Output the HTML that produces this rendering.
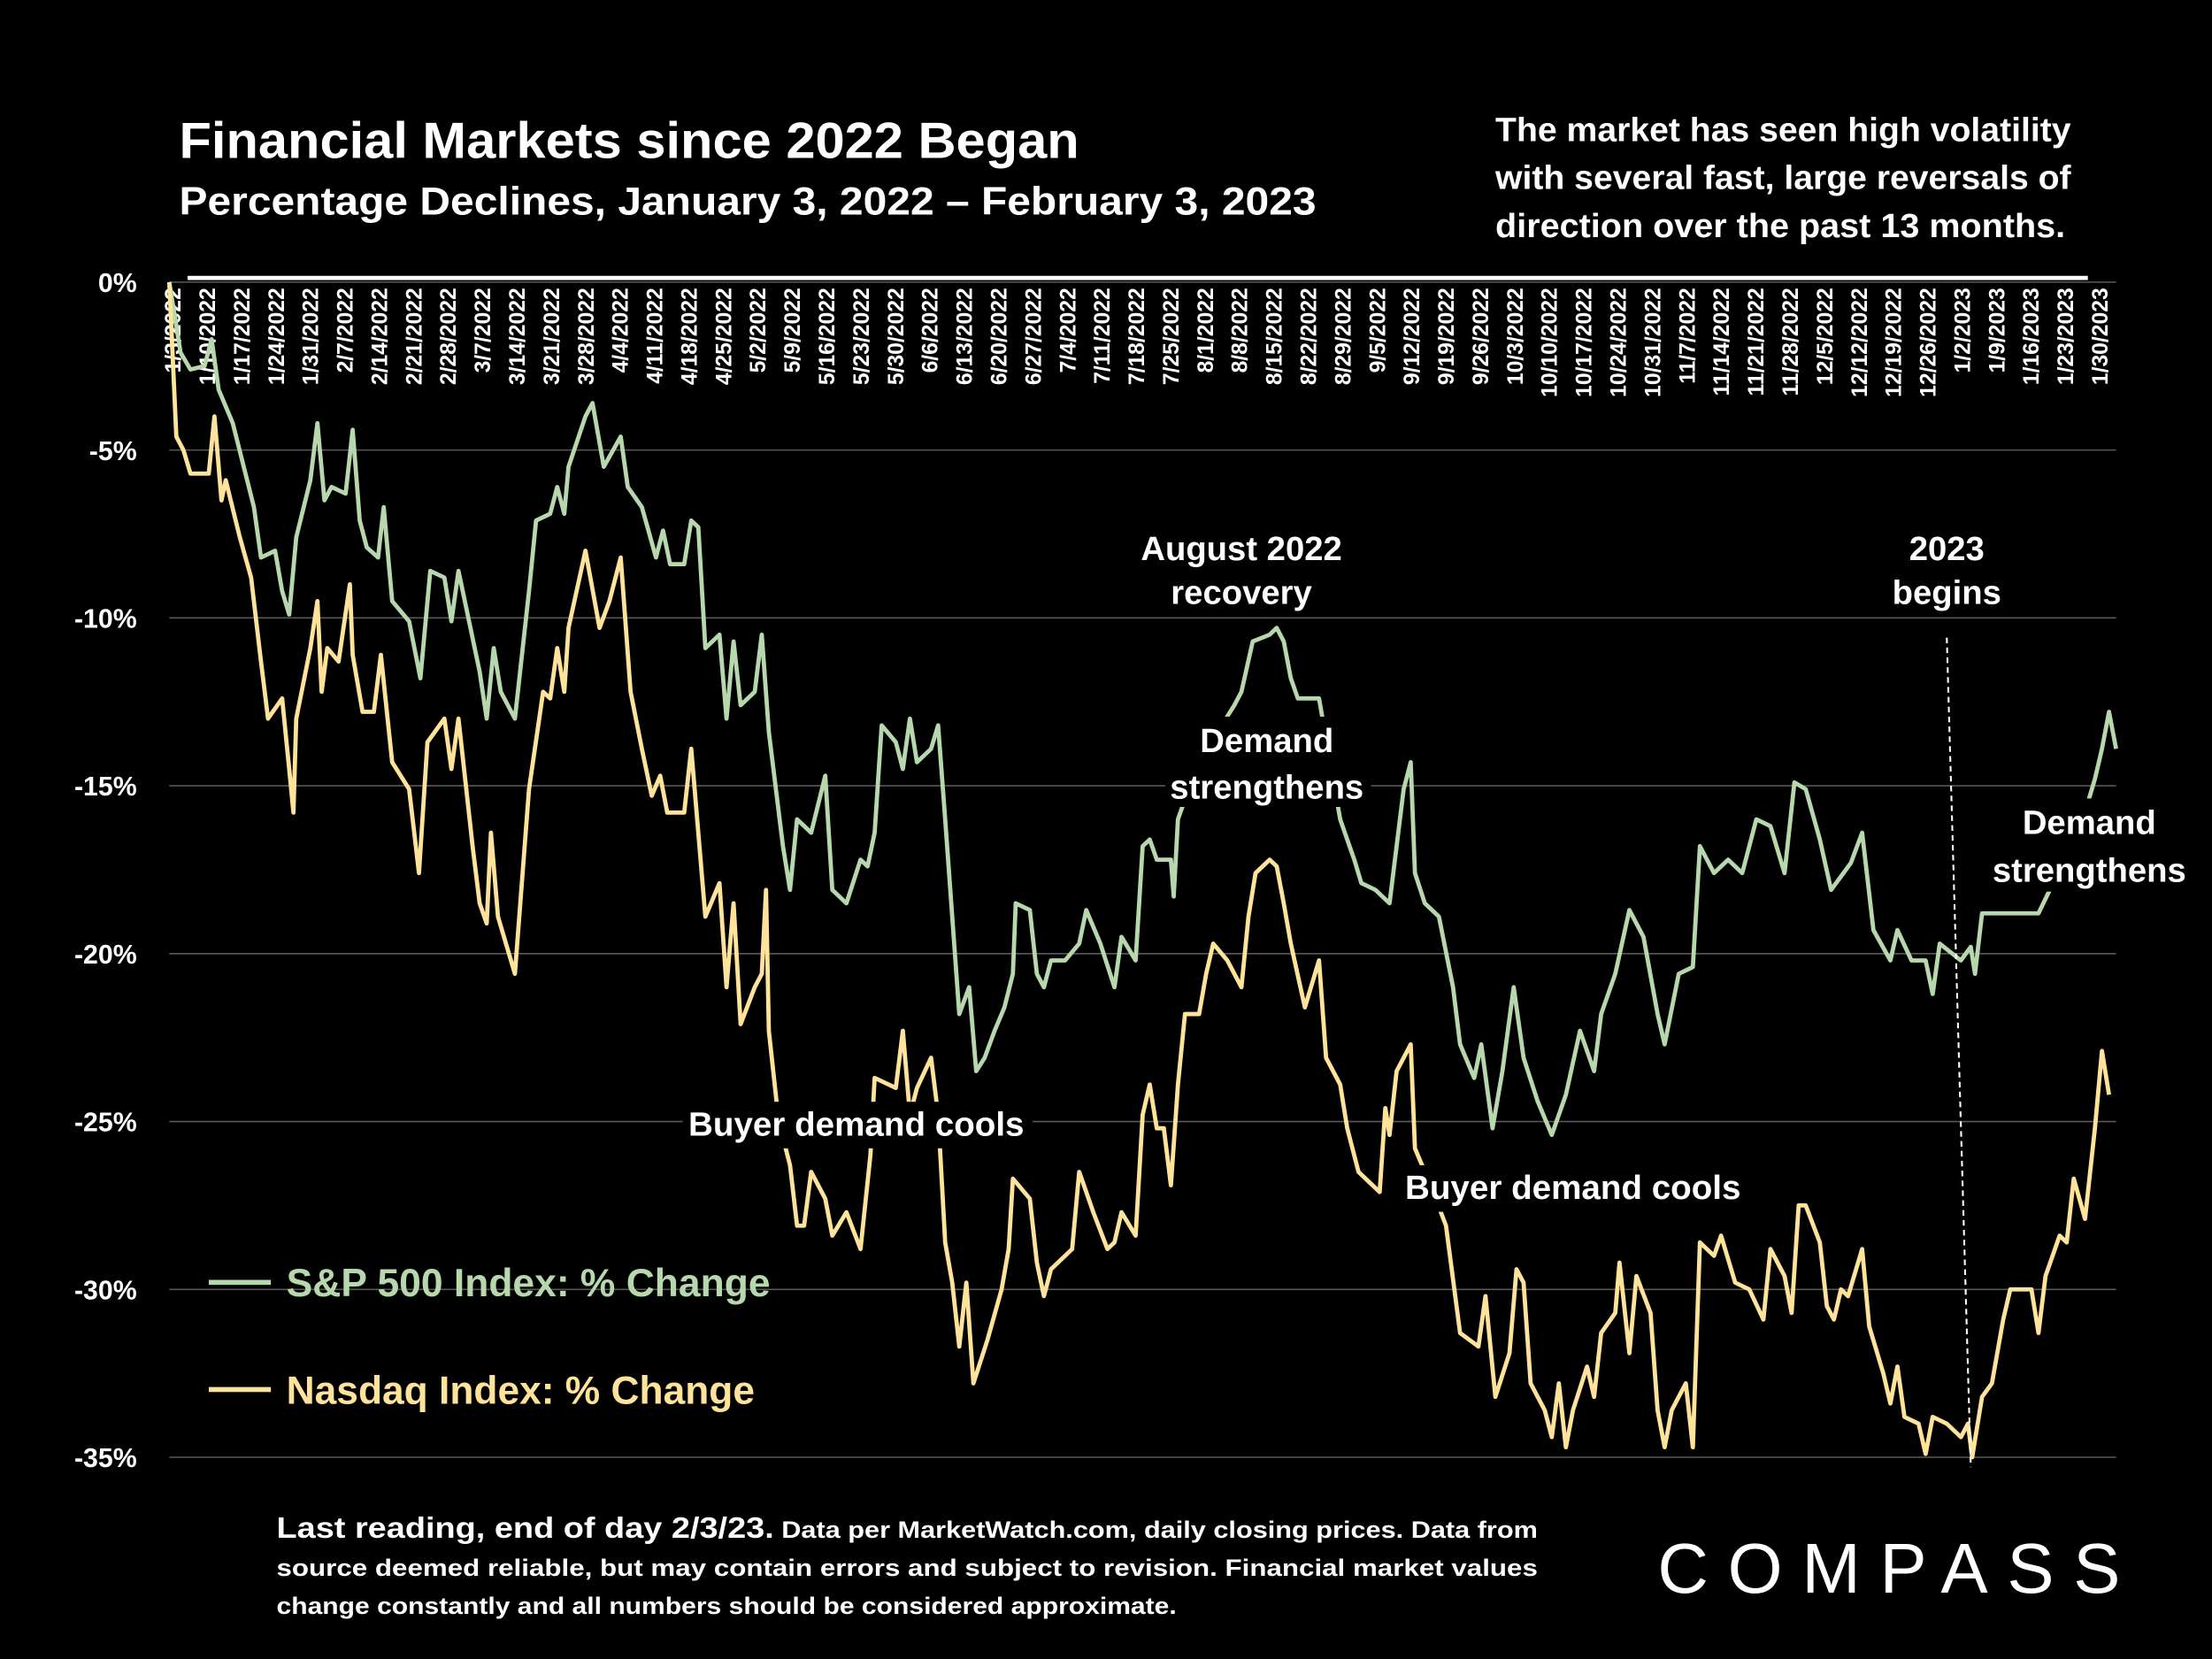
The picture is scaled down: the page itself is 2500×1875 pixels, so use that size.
<!DOCTYPE html>
<html><head><meta charset="utf-8"><style>
html,body{margin:0;padding:0;background:#000;}
svg{display:block;font-family:"Liberation Sans",sans-serif;}
</style></head><body>
<svg id="chart" width="2500" height="1875" viewBox="0 0 1568 1176" preserveAspectRatio="none" xmlns="http://www.w3.org/2000/svg">
<rect width="1568" height="1176" fill="#000"/>
<g id="grid"></g>
<g id="yticks"></g>
<g id="xticks"></g>
<line x1="133" y1="197" x2="1480" y2="197" stroke="#fff" stroke-width="3"/>
<g id="series"></g>
<line x1="1380" y1="452" x2="1397" y2="1040" stroke="#fff" stroke-width="1.3" stroke-dasharray="4,3"/>
<g font-weight="bold" fill="#fff">
<text x="127" y="112" font-size="36" textLength="638" lengthAdjust="spacingAndGlyphs">Financial Markets since 2022 Began</text>
<text x="127" y="152" font-size="28" textLength="806" lengthAdjust="spacingAndGlyphs">Percentage Declines, January 3, 2022 – February 3, 2023</text>
<g font-size="24">
<text x="1060" y="100" textLength="408" lengthAdjust="spacingAndGlyphs">The market has seen high volatility</text>
<text x="1060" y="134" textLength="408" lengthAdjust="spacingAndGlyphs">with several fast, large reversals of</text>
<text x="1060" y="168" textLength="404" lengthAdjust="spacingAndGlyphs">direction over the past 13 months.</text>
</g>
<g font-size="24" text-anchor="middle">
<text x="880" y="397">August 2022</text>
<text x="880" y="428">recovery</text>
<rect x="826" y="508" width="146" height="64" fill="#000"/>
<text x="898" y="533">Demand</text>
<text x="898" y="566">strengthens</text>
<text x="1380" y="397">2023</text>
<text x="1380" y="428">begins</text>
<rect x="1412" y="566" width="142" height="66" fill="#000"/>
<text x="1481" y="591">Demand</text>
<text x="1481" y="625">strengthens</text>
<rect x="484" y="781" width="248" height="33" fill="#000"/>
<text x="607" y="805" textLength="238" lengthAdjust="spacingAndGlyphs">Buyer demand cools</text>
<rect x="991" y="826" width="248" height="33" fill="#000"/>
<text x="1115" y="850" textLength="238" lengthAdjust="spacingAndGlyphs">Buyer demand cools</text>
</g>
<g font-size="28">
<line x1="148" y1="909" x2="192" y2="909" stroke="#b7d7ac" stroke-width="3.5"/>
<text x="203" y="919" fill="#b7d7ac" textLength="343" lengthAdjust="spacingAndGlyphs">S&amp;P 500 Index: % Change</text>
<line x1="148" y1="985" x2="192" y2="985" stroke="#ffe39a" stroke-width="3.5"/>
<text x="203" y="995" fill="#ffe39a" textLength="332" lengthAdjust="spacingAndGlyphs">Nasdaq Index: % Change</text>
</g>
<g font-size="17">
<text x="196" y="1090" textLength="894" lengthAdjust="spacingAndGlyphs"><tspan font-size="21">Last reading, end of day 2/3/23.</tspan> Data per MarketWatch.com, daily closing prices. Data from</text>
<text x="196" y="1117" textLength="894" lengthAdjust="spacingAndGlyphs">source deemed reliable, but may contain errors and subject to revision. Financial market values</text>
<text x="196" y="1144" textLength="638" lengthAdjust="spacingAndGlyphs">change constantly and all numbers should be considered approximate.</text>
</g>
</g>
<text x="1175" y="1129" font-size="50" fill="#fff" textLength="328" lengthAdjust="spacing">COMPASS</text>
</svg>
<script>
const dateLabels=["1/3/2022","1/10/2022","1/17/2022","1/24/2022","1/31/2022","2/7/2022","2/14/2022","2/21/2022","2/28/2022","3/7/2022","3/14/2022","3/21/2022","3/28/2022","4/4/2022","4/11/2022","4/18/2022","4/25/2022","5/2/2022","5/9/2022","5/16/2022","5/23/2022","5/30/2022","6/6/2022","6/13/2022","6/20/2022","6/27/2022","7/4/2022","7/11/2022","7/18/2022","7/25/2022","8/1/2022","8/8/2022","8/15/2022","8/22/2022","8/29/2022","9/5/2022","9/12/2022","9/19/2022","9/26/2022","10/3/2022","10/10/2022","10/17/2022","10/24/2022","10/31/2022","11/7/2022","11/14/2022","11/21/2022","11/28/2022","12/5/2022","12/12/2022","12/19/2022","12/26/2022","1/2/2023","1/9/2023","1/16/2023","1/23/2023","1/30/2023"];
const yTicks=[0,-5,-10,-15,-20,-25,-30,-35];
const spDays=[0,1.6,3,5,6,7,9,12,13,15,16,17,18,20,21,22,23,25,26,27,28,29.6,30.4,31.6,34,35.6,37,39,40,41,44,45,46,47,49,51,52,54,55,56,56.6,59,60,61.6,64,65,67,69,70,71,73,74,75,76,78,79,80,81,83,84,85,87,88,89,91,93,94,96,98,99,100,101,103,104,105,106,108,109,110,111,112,113.4,114.4,115.6,117,118.4,119.6,120,122,123,124,125,127,129,130,132,134,135,137,138,139,140,142,142.4,143,145,148,151,152,153.6,156,157,158,159,160,163,166,168,169,171,173,174,175,176,176.6,178,180,182,183,185,186,187.6,189,190.6,192,194,196,198,200,202,203,205,207,209,211,212,214,216,217,219,221,223,225,227,229,230.4,232,234,235.6,237,238.4,240,241.6,244,245,247,249,250,251,254,255.4,256,257,259,261,265,268,271,273,274,275,276];
const spVals=[0,-2.1,-2.6,-2.5,-1.7,-3.2,-4.2,-6.7,-8.2,-8.0,-9.2,-9.9,-7.6,-5.9,-4.2,-6.5,-6.1,-6.3,-4.4,-7.1,-7.9,-8.2,-6.7,-9.5,-10.1,-11.8,-8.6,-8.8,-10.1,-8.6,-11.6,-13.0,-10.9,-12.2,-13.0,-9.2,-7.1,-6.9,-6.1,-6.9,-5.5,-4.0,-3.6,-5.5,-4.6,-6.1,-6.7,-8.2,-7.4,-8.4,-8.4,-7.1,-7.3,-10.9,-10.5,-13.0,-10.7,-12.6,-12.2,-10.5,-13.4,-16.8,-18.1,-16.0,-16.4,-14.7,-18.1,-18.5,-17.2,-17.4,-16.4,-13.2,-13.7,-14.5,-13.0,-14.3,-13.9,-13.2,-16.0,-18.9,-21.8,-21.0,-23.5,-23.1,-22.3,-21.6,-20.6,-18.5,-18.7,-20.6,-21.0,-20.2,-20.2,-19.7,-18.7,-19.7,-21.0,-19.5,-20.2,-16.8,-16.6,-17.2,-17.2,-18.3,-16.0,-14.8,-13.6,-12.6,-12.2,-10.7,-10.5,-10.3,-10.7,-11.8,-12.4,-12.4,-16.0,-17.2,-17.9,-18.1,-18.5,-16.8,-15.1,-14.3,-17.6,-18.5,-18.9,-21.0,-22.7,-23.7,-22.7,-25.2,-23.5,-21.0,-23.1,-24.4,-25.4,-24.2,-22.3,-23.5,-21.8,-20.6,-18.7,-19.5,-21.8,-22.7,-20.6,-20.4,-16.8,-17.6,-17.2,-17.6,-16.0,-16.2,-17.6,-14.9,-15.1,-16.6,-18.1,-17.7,-17.3,-16.4,-19.3,-20.2,-19.3,-20.2,-20.2,-21.2,-19.7,-20.2,-19.8,-20.6,-18.8,-18.8,-18.8,-18.8,-17.5,-16.2,-14.8,-13.9,-12.8,-13.9];
const nqDays=[0,1,2,3,5.6,6.4,7.4,8,10,11.6,13,14,16,17,17.6,18,20,21,21.6,22.4,24,25.6,26,27.4,29,30,31.6,34,35.4,36.6,39,40,41,43,44,45,45.6,46.6,49,51,53,54,55,56,56.6,59,61,62.4,64,65.4,67,68.4,69.6,70.6,73,74,76,78,79,80,81,83,84,84.6,85,86.4,88,89,90,91,93,94,96,98,99.4,100,103,104,105,106,108,109,110,111,112,113,114,116,118,119,119.6,122,123,124,125,128,129,131,133,134,135,137,138,139,140,141,142,143,144,146,147,148,150,152,153,154,156,157,158,159,161,163,164,166,167,168.6,171.6,172.4,173,174,176,176.6,179,181,183,185.6,186.6,188,190,191,192,193,195,196,197,198,199,201,202,203,205,205.6,207,208,210,211,212,213,215,216,217,219,220,222,224,226,227,229,230,231,232,234,235,236,237,238,240,241,243,244,245,246,248,249,250,252,254,255,255.6,257,258.4,260,261,264,265,266,268,269,270,271.6,273,274,275];
const nqVals=[0,-4.6,-5.0,-5.7,-5.7,-4.0,-6.5,-5.9,-7.6,-8.8,-11.3,-13.0,-12.4,-14.5,-15.8,-13.0,-10.9,-9.5,-12.2,-10.9,-11.3,-9.0,-11.1,-12.8,-12.8,-11.1,-14.3,-15.1,-17.6,-13.7,-13.0,-14.5,-13.0,-16.8,-18.5,-19.1,-16.4,-18.9,-20.6,-15.1,-12.2,-12.4,-10.9,-12.2,-10.3,-8.0,-10.3,-9.5,-8.2,-12.2,-13.9,-15.3,-14.7,-15.8,-15.8,-13.9,-18.9,-17.9,-21.0,-18.5,-22.1,-21.0,-20.6,-18.1,-22.3,-25.0,-26.3,-28.1,-28.1,-26.5,-27.3,-28.4,-27.7,-28.8,-26.0,-23.7,-24.0,-22.3,-24.8,-24.0,-23.1,-24.8,-28.6,-29.8,-31.7,-29.8,-32.8,-31.5,-30.0,-28.8,-26.7,-27.3,-29.2,-30.2,-29.4,-28.8,-26.5,-27.7,-28.8,-28.6,-27.7,-28.4,-24.8,-23.9,-25.2,-25.2,-26.9,-23.9,-21.8,-21.8,-20.6,-19.7,-20.2,-21.0,-18.9,-17.6,-17.2,-17.4,-18.5,-19.7,-21.6,-20.2,-23.1,-23.9,-25.2,-26.5,-27.1,-24.6,-25.4,-23.5,-22.7,-25.8,-27.0,-28.1,-31.3,-31.7,-30.2,-33.2,-31.9,-29.4,-29.8,-32.8,-33.6,-34.4,-32.8,-34.7,-33.6,-32.3,-33.2,-31.3,-30.7,-29.2,-31.9,-29.6,-30.7,-33.6,-34.7,-33.6,-32.8,-34.7,-28.6,-29.0,-28.4,-29.8,-30.0,-30.9,-28.8,-29.6,-30.7,-27.5,-27.5,-28.6,-30.5,-30.9,-30.0,-30.2,-28.8,-31.1,-32.5,-33.4,-32.3,-33.8,-34.0,-34.9,-33.8,-34.0,-34.4,-34.0,-35.0,-33.2,-32.8,-30.9,-30.0,-30.0,-31.3,-29.6,-28.4,-28.6,-26.7,-27.9,-25.2,-22.9,-24.2];
const X0=120,X1=1500,Y0=200,Y35=1033,DMAX=276;
const xs=d=>X0+(X1-X0)*d/DMAX;
const ys=v=>Y0+(Y35-Y0)*(v/-35);
const NS="http://www.w3.org/2000/svg";
function mk(tag,attrs,parent){const e=document.createElementNS(NS,tag);for(const k in attrs)e.setAttribute(k,attrs[k]);parent.appendChild(e);return e;}
const grid=document.getElementById('grid'),yt=document.getElementById('yticks'),xt=document.getElementById('xticks'),ser=document.getElementById('series');
yTicks.forEach(v=>{
  const g=mk('line',{x1:X0,x2:X1,y1:ys(v),y2:ys(v),stroke:'#595959','stroke-width':1},grid);
  
  
  const t=mk('text',{x:97,y:ys(v)+7,'text-anchor':'end','font-size':19,'font-weight':'bold',fill:'#fff'},yt);
  t.textContent=v+'%';
  
  
});
const weekStep=(1488-122)/56*DMAX/(X1-X0);
dateLabels.forEach((s,i)=>{
  const x=xs(0.4+i*weekStep)+6;
  const t=mk('text',{transform:`translate(${x},204) rotate(-90)`,'text-anchor':'end','font-size':15.5,'font-weight':'bold',fill:'#fff'},xt);
  t.textContent=s;
  
  
});
function line(days,vals,color,name){
  const n=Math.min(days.length,vals.length);
  let d='';
  for(let i=0;i<n;i++)d+=(i?'L':'M')+xs(days[i]).toFixed(1)+','+ys(vals[i]).toFixed(1);
  const p=mk('path',{d:d,fill:'none',stroke:color,'stroke-width':3,'stroke-linejoin':'round'},ser);
  
  
}
line(spDays,spVals,'#b7d7ac','sp500-line');
line(nqDays,nqVals,'#ffe39a','nasdaq-line');
</script>
</body></html>
